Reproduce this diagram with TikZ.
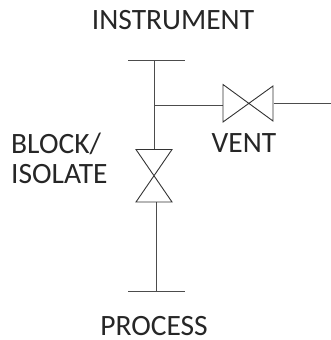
\documentclass[tikz,border=0pt]{standalone}
\usepackage{fontspec}
\setmainfont{Carlito}
\tikzset{
  pipe/.style={draw=black!70!white,line width=0.9pt},
  valve/.style={draw=black!80!white,line width=0.9pt,line join=miter},
  lab/.style={inner sep=0pt,font=\fontsize{29.5}{30}\selectfont,text=black!85!white},
}
\begin{document}
\begin{tikzpicture}[x=1pt,y=-1pt]
\useasboundingbox (0,0) rectangle (331,340);
\coordinate (tl) at (128,60.8); \coordinate (tr) at (185,60.8); \coordinate (tm) at (154,60.8);
\coordinate (tee) at (154,105.5);
\coordinate (vtop) at (154,149.5);
\coordinate (vbot) at (156.5,202);
\coordinate (pm) at (156.5,291); \coordinate (bl) at (128,291); \coordinate (br) at (185,291);
\coordinate (hl) at (223,105.5); \coordinate (hr) at (273.5,103); \coordinate (hend) at (331,103);
\draw[pipe] (tl) -- (tr);
\draw[pipe] (tm) -- (vtop);
\draw[pipe] (tee) -- (hl);
\draw[pipe] (hr) -- (hend);
\draw[pipe] (vbot) -- (pm);
\draw[pipe] (bl) -- (br);
\draw[valve] (223,84.5) -- (273,121) -- (273,86) -- (223,122) -- cycle;
\draw[valve] (136,149.5) -- (172,149.5) -- (136,202) -- (172,202) -- cycle;
\node[lab,anchor=base] (inst) at (173,29) {INSTRUMENT};
\node[lab,anchor=base] (vent) at (244,152) {VENT};
\node[lab,anchor=base west] (block) at (11,153) {BLOCK/};
\node[lab,anchor=base west] (iso) at (11,183) {ISOLATE};
\node[lab,anchor=base] (proc) at (154,335) {PROCESS};
\end{tikzpicture}
\end{document}
